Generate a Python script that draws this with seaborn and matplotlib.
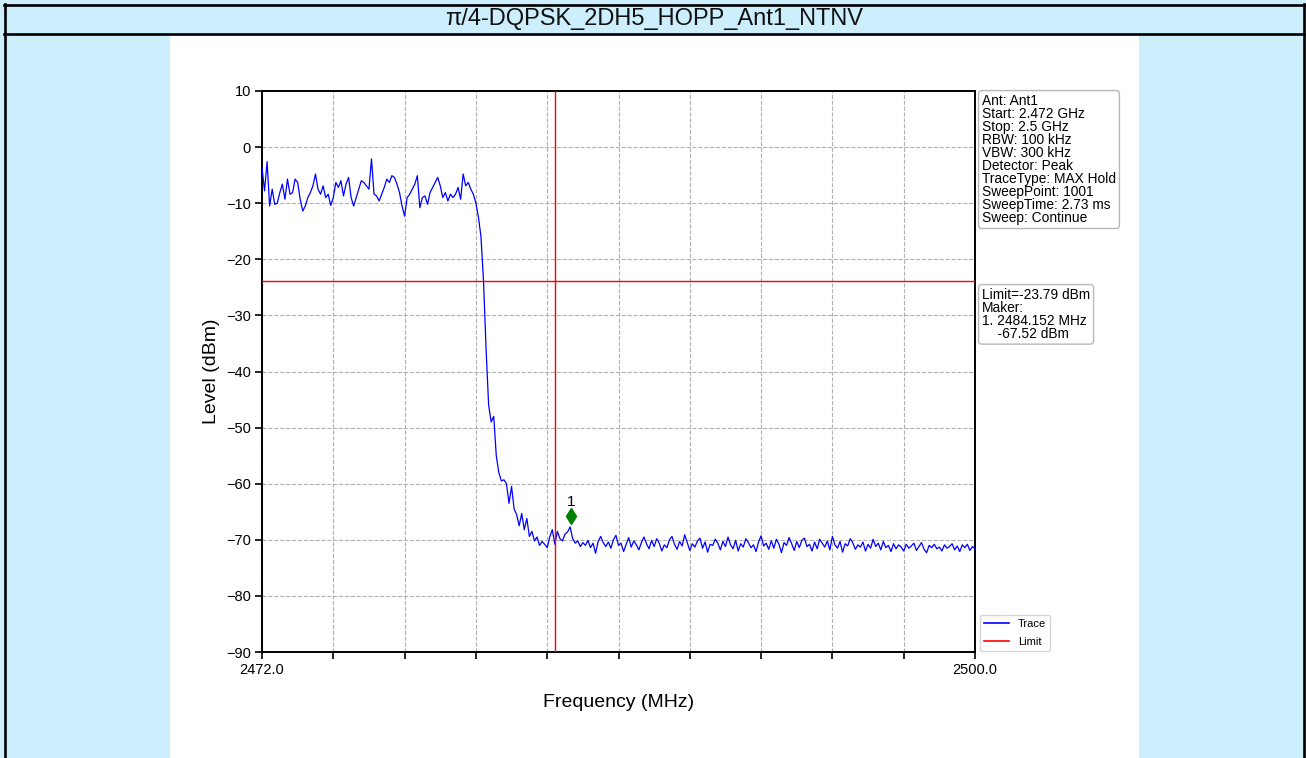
import numpy as np
import pandas as pd
import matplotlib
matplotlib.use("Agg")
import matplotlib.pyplot as plt
import matplotlib.transforms as mtransforms
from matplotlib.lines import Line2D
from matplotlib.patches import Rectangle
import seaborn as sns

# ---------------- data ----------------
title = "π/4-DQPSK_2DH5_HOPP_Ant1_NTNV"
f_start, f_stop, f_step = 2472.0, 2500.0, 0.1

level_passband = [
    -3.6, -7.8, -2.6, -10.5, -7.5, -10.2, -10.0, -8.1, -6.6, -9.3,
    -5.7, -8.4, -8.1, -5.7, -6.3, -9.3, -11.4, -10.5, -9.0, -8.1,
    -6.9, -4.8, -7.5, -8.4, -6.9, -9.0, -8.4, -10.4, -9.0, -6.3,
    -7.2, -6.0, -8.7, -6.6, -5.4, -9.0, -10.5, -9.0, -7.5, -6.0,
    -6.3, -6.9, -7.5, -2.1, -8.4, -8.7, -9.6, -8.4, -7.2, -5.7,
    -6.3, -5.1, -5.4, -6.6, -8.1, -10.5, -12.3, -9.0, -8.4, -7.5,
    -6.6, -5.1, -10.8, -9.0, -8.7, -10.2, -8.1, -7.2, -6.3, -5.4,
    -6.9, -9.0, -8.1, -9.6, -8.4, -9.0, -8.4, -7.2, -9.3, -4.8,
    -6.9, -6.3, -7.5, -8.4, -10.0,
]
level_edge = [
    -12.5, -16.0, -24.0, -36.0, -46.0, -49.0, -48.0, -55.0, -58.0, -59.5,
    -59.3, -60.0, -63.5, -60.5, -64.5, -65.5, -67.5, -65.3, -68.2, -66.2,
    -69.4, -68.5, -70.2, -69.5, -71.0, -70.3,
]
level_near = [
    -70.8, -71.4, -69.5, -68.2, -70.8, -68.5, -69.8, -70.2, -69.0, -68.6,
    -67.7, -69.8, -70.6, -70.2, -71.2, -70.5, -71.0, -70.1, -71.4, -70.6,
    -72.4, -70.3, -69.4, -70.5, -71.2,
]
level_floor = [
    -70.4, -71.5, -70.0, -69.2, -71.0, -70.6, -72.1, -70.8, -69.6, -71.3,
    -70.2, -70.9, -71.8, -70.5, -69.5, -70.7, -71.6, -70.1, -71.2, -69.8,
    -70.6, -72.0, -70.9, -71.4, -70.0, -69.4, -70.8, -71.7, -70.3, -71.1,
    -69.1, -70.5, -71.9, -70.7, -71.3, -70.2, -69.7, -71.5, -70.4, -72.2,
    -70.8, -71.0, -69.9, -70.6, -71.8, -70.3, -71.2, -69.5, -70.9, -71.6,
    -70.1, -72.0, -70.7, -71.3, -69.8, -70.5, -71.4, -70.9, -72.1, -70.4,
    -69.3, -71.1, -70.6, -71.7, -70.2, -71.5, -69.9, -70.8, -72.3, -70.5,
    -71.0, -69.6, -70.7, -71.9, -70.3, -71.4, -70.1, -69.7, -71.2, -70.8,
    -72.0, -70.4, -71.6, -69.9, -70.6, -71.3, -70.2, -71.8, -69.4, -70.9,
    -71.5, -70.3, -72.2, -70.7, -71.1, -69.8, -70.5, -71.7, -70.9, -71.3,
    -70.4, -72.0, -70.8, -71.5, -69.9, -71.2, -70.6, -71.8, -70.3, -71.4,
    -71.0, -72.1, -70.7, -71.6, -70.9, -71.3, -72.0, -70.8, -71.5, -71.1,
    -70.6, -71.9, -71.2, -70.5, -71.7, -72.3, -71.0, -71.4, -70.8, -71.6,
    -71.3, -72.0, -70.9, -71.5, -71.2, -70.7, -71.8, -71.1, -72.1, -70.9,
    -71.4, -70.8, -71.9, -71.2, -71.6,
]
limit_level = -23.79
band_edge = 2483.5
marker_freq = 2484.152
marker_level = -67.52
x_tick_labels = ["2472.0", "", "", "", "", "", "", "", "", "", "2500.0"]
y_ticks = [10, 0, -10, -20, -30, -40, -50, -60, -70, -80, -90]

info_lines = [
    "Ant: Ant1", "Start: 2.472 GHz", "Stop: 2.5 GHz", "RBW: 100 kHz",
    "VBW: 300 kHz", "Detector: Peak", "TraceType: MAX Hold",
    "SweepPoint: 1001", "SweepTime: 2.73 ms", "Sweep: Continue",
]
marker_lines = [
    "Limit=-23.79 dBm", "Maker:", "1. 2484.152 MHz", "    -67.52 dBm",
]

levels = level_passband + level_edge + level_near + level_floor
n_pts = len(levels)
freqs = np.round(f_start + f_step * np.arange(n_pts), 3)
df = pd.DataFrame({"Frequency": freqs, "Level": levels})

# ---------------- figure ----------------
W, H = 1306, 758
plt.rcParams["font.family"] = ["Liberation Sans", "DejaVu Sans"]
fig = plt.figure(figsize=(W / 100, H / 100), dpi=100, facecolor="#cdeefc")

# white panel
fig.add_artist(Rectangle((170 / W, 0), (1139 - 170) / W, (758 - 34) / H,
                         transform=fig.transFigure, facecolor="white",
                         edgecolor="none", zorder=0))
# frame lines
lw_frame = 1.9
for (x0, y0, x1, y1) in [(4, 4.5, 1304, 4.5), (4, 33.5, 1304, 33.5),
                         (5, 4, 5, 758), (1303.5, 4, 1303.5, 758)]:
    fig.add_artist(Line2D([x0 / W, x1 / W], [1 - y0 / H, 1 - y1 / H],
                          transform=fig.transFigure, color="black",
                          lw=lw_frame, solid_capstyle="projecting"))
fig.text(654 / W, 1 - 19 / H, title, ha="center", va="center",
         fontsize=17, color="#111111")

ax = fig.add_axes([262 / W, 1 - 652 / H, (975 - 262) / W, (652 - 91) / H])
ax.set_facecolor("white")

sns.lineplot(data=df, x="Frequency", y="Level", ax=ax, color="#0000ff",
             lw=0.9, legend=False, estimator=None, sort=False, zorder=3)
ax.axhline(limit_level, color="#ff0000", lw=1.0, zorder=4)
ax.axvline(band_edge, color="#ff0000", lw=1.0, zorder=4)

# marker (drawn slightly above the trace point)
off = mtransforms.ScaledTranslation(0, 7 / 72, fig.dpi_scale_trans)
ax.plot([marker_freq], [marker_level], marker="d", color="#008000",
        ms=8, ls="none", transform=ax.transData + off, zorder=5)
ax.annotate("1", xy=(marker_freq, marker_level), xytext=(0, 17.5),
            textcoords="offset points", ha="center", va="center",
            fontsize=11, color="black")

ax.set_xlim(f_start, f_stop)
ax.set_ylim(-90, 10)
ax.set_xticks(np.linspace(f_start, f_stop, len(x_tick_labels)))
ax.set_xticklabels(x_tick_labels)
ax.set_yticks(y_ticks)
ax.grid(True, ls="--", color="#b0b0b0", lw=0.8)
ax.set_axisbelow(True)
for s in ax.spines.values():
    s.set_linewidth(1.4)
    s.set_color("black")
ax.tick_params(direction="out", length=5, width=1.2, labelsize=10.5,
               colors="black", pad=3)
ax.set_xlabel("Frequency (MHz)", fontsize=14, labelpad=12)
ax.set_ylabel("Level (dBm)", fontsize=14, labelpad=4)

box = dict(boxstyle="round,pad=0.25", facecolor="white",
           edgecolor="#b8b8b8", lw=1.0)
ax.text((982 - 262) / 713, (652 - 94) / 561, "\n".join(info_lines),
        transform=ax.transAxes, ha="left", va="top", fontsize=9.9,
        linespacing=0.91, bbox=box)
ax.text((982 - 262) / 713, (652 - 288) / 561, "\n".join(marker_lines),
        transform=ax.transAxes, ha="left", va="top", fontsize=9.9,
        linespacing=0.9, bbox=box)

handles = [Line2D([], [], color="#0000ff", lw=1.2, label="Trace"),
           Line2D([], [], color="#ff0000", lw=1.2, label="Limit")]
ax.legend(handles=handles, loc="lower left",
          bbox_to_anchor=(1 + 5 / 713, 1 / 561), borderaxespad=0,
          fontsize=8, frameon=True, handlelength=2.2, labelspacing=0.65)

fig.savefig("out.png", dpi=100, facecolor=fig.get_facecolor())
